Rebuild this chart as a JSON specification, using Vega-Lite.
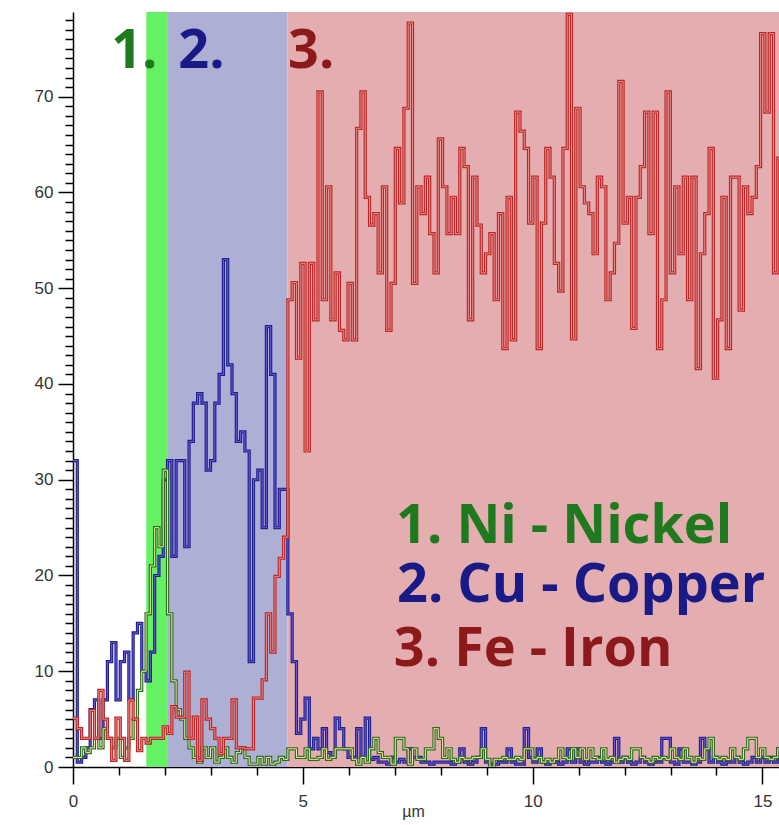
{
  "$schema": "https://vega.github.io/schema/vega-lite/v6.json",
  "width": 706,
  "height": 755,
  "autosize": "none",
  "padding": {"left": 73, "top": 12, "right": 0, "bottom": 58},
  "background": "#ffffff",
  "config": {"view": {"stroke": null}, "axis": {"grid": false}},
  "datasets": {
    "bands": [
      {"band": "Ni", "x0": 1.594, "x1": 2.065},
      {"band": "Cu", "x0": 2.065, "x1": 4.665},
      {"band": "Fe", "x0": 4.665, "x1": 15.36}
    ],
    "labels": [
      {"t": "1.", "x": 0.83, "y": 73.0, "s": "Ni"},
      {"t": "2.", "x": 2.29, "y": 73.0, "s": "Cu"},
      {"t": "3.", "x": 4.68, "y": 73.0, "s": "Fe"},
      {"t": "1. Ni - Nickel", "x": 7.03, "y": 23.35, "s": "Ni"},
      {"t": "2. Cu - Copper", "x": 7.05, "y": 17.2, "s": "Cu"},
      {"t": "3. Fe - Iron", "x": 6.98, "y": 10.6, "s": "Fe"}
    ],
    "scan": [
      {"x": 0, "ni": 1, "cu": 32, "fe": 5.1},
      {"x": 0.0935, "ni": 1, "cu": 0.5, "fe": 4},
      {"x": 0.187, "ni": 2, "cu": 1, "fe": 3},
      {"x": 0.2805, "ni": 1.5, "cu": 2, "fe": 3},
      {"x": 0.374, "ni": 2, "cu": 6, "fe": 5.9},
      {"x": 0.4675, "ni": 3, "cu": 7, "fe": 3},
      {"x": 0.561, "ni": 2, "cu": 3, "fe": 8},
      {"x": 0.6545, "ni": 4, "cu": 7, "fe": 5},
      {"x": 0.748, "ni": 3, "cu": 11, "fe": 3},
      {"x": 0.8415, "ni": 2, "cu": 13, "fe": 0.7},
      {"x": 0.935, "ni": 3, "cu": 7, "fe": 5.1},
      {"x": 1.0285, "ni": 1, "cu": 11, "fe": 3},
      {"x": 1.122, "ni": 2, "cu": 12, "fe": 0.7},
      {"x": 1.2155, "ni": 3, "cu": 7, "fe": 7},
      {"x": 1.309, "ni": 5, "cu": 14, "fe": 5},
      {"x": 1.4025, "ni": 8, "cu": 15, "fe": 1.7},
      {"x": 1.496, "ni": 10, "cu": 10, "fe": 3},
      {"x": 1.5895, "ni": 16, "cu": 9, "fe": 2.5},
      {"x": 1.683, "ni": 21, "cu": 12, "fe": 3},
      {"x": 1.7765, "ni": 25, "cu": 20, "fe": 3},
      {"x": 1.87, "ni": 23, "cu": 22, "fe": 3},
      {"x": 1.9635, "ni": 31, "cu": 30, "fe": 4.2},
      {"x": 2.057, "ni": 16, "cu": 32, "fe": 3.5},
      {"x": 2.1505, "ni": 9, "cu": 22, "fe": 6.3},
      {"x": 2.244, "ni": 6, "cu": 32, "fe": 5.2},
      {"x": 2.3375, "ni": 5, "cu": 32, "fe": 5.2},
      {"x": 2.431, "ni": 3, "cu": 23, "fe": 9.9},
      {"x": 2.5245, "ni": 2, "cu": 34, "fe": 3},
      {"x": 2.618, "ni": 1, "cu": 38, "fe": 5.2},
      {"x": 2.7115, "ni": 0.5, "cu": 39, "fe": 0.7},
      {"x": 2.805, "ni": 2, "cu": 38, "fe": 7},
      {"x": 2.8985, "ni": 1, "cu": 31, "fe": 5},
      {"x": 2.992, "ni": 2, "cu": 32, "fe": 4},
      {"x": 3.0855, "ni": 0.5, "cu": 38, "fe": 3},
      {"x": 3.179, "ni": 1, "cu": 41, "fe": 1.4},
      {"x": 3.2725, "ni": 2, "cu": 53, "fe": 3},
      {"x": 3.366, "ni": 1, "cu": 42, "fe": 3},
      {"x": 3.4595, "ni": 0.5, "cu": 39, "fe": 7},
      {"x": 3.553, "ni": 1.5, "cu": 34, "fe": 2},
      {"x": 3.6465, "ni": 2, "cu": 35, "fe": 2},
      {"x": 3.74, "ni": 1, "cu": 33, "fe": 1.9},
      {"x": 3.8335, "ni": 0.3, "cu": 11, "fe": 1.9},
      {"x": 3.927, "ni": 0.3, "cu": 30, "fe": 7.2},
      {"x": 4.0205, "ni": 1, "cu": 31, "fe": 7.2},
      {"x": 4.114, "ni": 0.3, "cu": 25, "fe": 9.1},
      {"x": 4.2075, "ni": 1, "cu": 46, "fe": 16},
      {"x": 4.301, "ni": 0.3, "cu": 41, "fe": 12},
      {"x": 4.3945, "ni": 0.5, "cu": 25, "fe": 19.9},
      {"x": 4.488, "ni": 1, "cu": 29, "fe": 21.8},
      {"x": 4.5815, "ni": 0.8, "cu": 29, "fe": 24},
      {"x": 4.675, "ni": 1.9, "cu": 16, "fe": 48.8},
      {"x": 4.7685, "ni": 1.9, "cu": 11, "fe": 50.6},
      {"x": 4.862, "ni": 1, "cu": 3.5, "fe": 42.7},
      {"x": 4.9555, "ni": 1, "cu": 5, "fe": 52.6},
      {"x": 5.049, "ni": 1.9, "cu": 7.2, "fe": 33},
      {"x": 5.1425, "ni": 0.8, "cu": 1.9, "fe": 52.6},
      {"x": 5.236, "ni": 0.8, "cu": 3, "fe": 46.7},
      {"x": 5.3295, "ni": 1, "cu": 1.9, "fe": 70.5},
      {"x": 5.423, "ni": 1.9, "cu": 4, "fe": 48.8},
      {"x": 5.5165, "ni": 0.8, "cu": 1.5, "fe": 60.6},
      {"x": 5.61, "ni": 1, "cu": 1, "fe": 46.7},
      {"x": 5.7035, "ni": 1.9, "cu": 5.1, "fe": 51.6},
      {"x": 5.797, "ni": 1.9, "cu": 4, "fe": 45.6},
      {"x": 5.8905, "ni": 1.9, "cu": 1.9, "fe": 44.6},
      {"x": 5.984, "ni": 1.9, "cu": 1, "fe": 50.5},
      {"x": 6.0775, "ni": 0.8, "cu": 1, "fe": 44.6},
      {"x": 6.171, "ni": 0.3, "cu": 4, "fe": 66.7},
      {"x": 6.2645, "ni": 1, "cu": 1, "fe": 70.5},
      {"x": 6.358, "ni": 0.5, "cu": 5.1, "fe": 59.5},
      {"x": 6.4515, "ni": 1.9, "cu": 0.8, "fe": 56.6},
      {"x": 6.545, "ni": 3, "cu": 1, "fe": 57.8},
      {"x": 6.6385, "ni": 1.5, "cu": 0.5, "fe": 51.6},
      {"x": 6.732, "ni": 1, "cu": 0.5, "fe": 60.6},
      {"x": 6.8255, "ni": 1, "cu": 0.3, "fe": 45.6},
      {"x": 6.919, "ni": 0.3, "cu": 1, "fe": 50.5},
      {"x": 7.0125, "ni": 3, "cu": 0.5, "fe": 64.6},
      {"x": 7.106, "ni": 3, "cu": 0.8, "fe": 58.9},
      {"x": 7.1995, "ni": 1.9, "cu": 0.5, "fe": 68.8},
      {"x": 7.293, "ni": 0.3, "cu": 1.9, "fe": 77.7},
      {"x": 7.3865, "ni": 1.9, "cu": 1, "fe": 50.5},
      {"x": 7.48, "ni": 0.8, "cu": 1, "fe": 60.6},
      {"x": 7.5735, "ni": 0.8, "cu": 0.5, "fe": 57.8},
      {"x": 7.667, "ni": 1.9, "cu": 0.5, "fe": 61.6},
      {"x": 7.7605, "ni": 1.9, "cu": 0.3, "fe": 55.7},
      {"x": 7.854, "ni": 4, "cu": 0.5, "fe": 51.6},
      {"x": 7.9475, "ni": 3, "cu": 0.5, "fe": 65.6},
      {"x": 8.041, "ni": 1, "cu": 0.5, "fe": 60.6},
      {"x": 8.1345, "ni": 1.9, "cu": 0.5, "fe": 55.7},
      {"x": 8.228, "ni": 0.8, "cu": 0.3, "fe": 59.5},
      {"x": 8.3215, "ni": 0.5, "cu": 0.5, "fe": 55.7},
      {"x": 8.415, "ni": 1, "cu": 1.9, "fe": 64.6},
      {"x": 8.5085, "ni": 0.8, "cu": 0.5, "fe": 62.7},
      {"x": 8.602, "ni": 0.8, "cu": 0.3, "fe": 46.7},
      {"x": 8.6955, "ni": 1, "cu": 0.5, "fe": 61.6},
      {"x": 8.789, "ni": 1, "cu": 1, "fe": 56.6},
      {"x": 8.8825, "ni": 1.9, "cu": 4, "fe": 51.6},
      {"x": 8.976, "ni": 0.8, "cu": 0.5, "fe": 53.6},
      {"x": 9.0695, "ni": 0, "cu": 0.3, "fe": 55.7},
      {"x": 9.163, "ni": 0.8, "cu": 0.3, "fe": 48.8},
      {"x": 9.2565, "ni": 0.8, "cu": 0.5, "fe": 57.8},
      {"x": 9.35, "ni": 1, "cu": 0.5, "fe": 43.7},
      {"x": 9.4435, "ni": 0.8, "cu": 1.9, "fe": 59.5},
      {"x": 9.537, "ni": 0.8, "cu": 0.5, "fe": 44.6},
      {"x": 9.6305, "ni": 1, "cu": 0.3, "fe": 68.4},
      {"x": 9.724, "ni": 0.8, "cu": 0.3, "fe": 66.4},
      {"x": 9.8175, "ni": 1.9, "cu": 4, "fe": 64.6},
      {"x": 9.911, "ni": 1.9, "cu": 1, "fe": 56.8},
      {"x": 10.0045, "ni": 0.8, "cu": 0.5, "fe": 61.6},
      {"x": 10.098, "ni": 1, "cu": 1.9, "fe": 43.7},
      {"x": 10.1915, "ni": 0.5, "cu": 0.5, "fe": 56.8},
      {"x": 10.285, "ni": 0.8, "cu": 0.3, "fe": 64.6},
      {"x": 10.3785, "ni": 0.5, "cu": 0.5, "fe": 61.6},
      {"x": 10.472, "ni": 0.8, "cu": 0.5, "fe": 52.6},
      {"x": 10.5655, "ni": 1.9, "cu": 0.3, "fe": 49.7},
      {"x": 10.659, "ni": 1, "cu": 0.5, "fe": 64.6},
      {"x": 10.7525, "ni": 0.8, "cu": 1.9, "fe": 78.6},
      {"x": 10.846, "ni": 1.9, "cu": 0.5, "fe": 44.7},
      {"x": 10.9395, "ni": 1, "cu": 1.9, "fe": 68.8},
      {"x": 11.033, "ni": 1.9, "cu": 0.5, "fe": 60.6},
      {"x": 11.1265, "ni": 0.8, "cu": 0.3, "fe": 58.9},
      {"x": 11.22, "ni": 1.9, "cu": 0.5, "fe": 57.8},
      {"x": 11.3135, "ni": 1, "cu": 0.5, "fe": 53.6},
      {"x": 11.407, "ni": 0.8, "cu": 1, "fe": 61.6},
      {"x": 11.5005, "ni": 1.9, "cu": 0.5, "fe": 60.6},
      {"x": 11.594, "ni": 0.8, "cu": 0.3, "fe": 48.8},
      {"x": 11.6875, "ni": 1, "cu": 0.5, "fe": 51.6},
      {"x": 11.781, "ni": 0.5, "cu": 3, "fe": 54.7},
      {"x": 11.8745, "ni": 0.8, "cu": 0.5, "fe": 71.6},
      {"x": 11.968, "ni": 1, "cu": 1, "fe": 56.8},
      {"x": 12.0615, "ni": 0.8, "cu": 0.5, "fe": 59.5},
      {"x": 12.155, "ni": 1.9, "cu": 0.3, "fe": 45.8},
      {"x": 12.2485, "ni": 1.9, "cu": 0.5, "fe": 59.5},
      {"x": 12.342, "ni": 1, "cu": 1, "fe": 62.7},
      {"x": 12.4355, "ni": 0.8, "cu": 0.5, "fe": 68.4},
      {"x": 12.529, "ni": 0.5, "cu": 0.3, "fe": 55.7},
      {"x": 12.6225, "ni": 1, "cu": 0.5, "fe": 68.4},
      {"x": 12.716, "ni": 0.8, "cu": 0.5, "fe": 43.7},
      {"x": 12.8095, "ni": 1, "cu": 3, "fe": 48.8},
      {"x": 12.903, "ni": 0.8, "cu": 3, "fe": 70.5},
      {"x": 12.9965, "ni": 1.9, "cu": 0.5, "fe": 51.6},
      {"x": 13.09, "ni": 1, "cu": 0.3, "fe": 60.6},
      {"x": 13.1835, "ni": 0.8, "cu": 1.9, "fe": 53.6},
      {"x": 13.277, "ni": 1.9, "cu": 0.5, "fe": 61.6},
      {"x": 13.3705, "ni": 1, "cu": 0.5, "fe": 48.8},
      {"x": 13.464, "ni": 0.5, "cu": 0.3, "fe": 61.6},
      {"x": 13.5575, "ni": 1, "cu": 0.5, "fe": 41.6},
      {"x": 13.651, "ni": 0.8, "cu": 3, "fe": 53.6},
      {"x": 13.7445, "ni": 1.9, "cu": 1.9, "fe": 57.8},
      {"x": 13.838, "ni": 3, "cu": 0.5, "fe": 64.6},
      {"x": 13.9315, "ni": 1, "cu": 1, "fe": 40.6},
      {"x": 14.025, "ni": 0.8, "cu": 0.5, "fe": 46.7},
      {"x": 14.1185, "ni": 1, "cu": 0.3, "fe": 59.5},
      {"x": 14.212, "ni": 0.8, "cu": 0.5, "fe": 43.7},
      {"x": 14.3055, "ni": 1.9, "cu": 0.5, "fe": 61.6},
      {"x": 14.399, "ni": 1, "cu": 1, "fe": 61.6},
      {"x": 14.4925, "ni": 0.8, "cu": 0.5, "fe": 47.7},
      {"x": 14.586, "ni": 1.9, "cu": 0.3, "fe": 60.6},
      {"x": 14.6795, "ni": 3, "cu": 0.5, "fe": 57.8},
      {"x": 14.773, "ni": 3, "cu": 1, "fe": 59.5},
      {"x": 14.8665, "ni": 1, "cu": 0.5, "fe": 62.7},
      {"x": 14.96, "ni": 1.9, "cu": 1, "fe": 76.6},
      {"x": 15.0535, "ni": 1, "cu": 0.5, "fe": 68.4},
      {"x": 15.147, "ni": 0.8, "cu": 1, "fe": 76.6},
      {"x": 15.2405, "ni": 1, "cu": 0.5, "fe": 51.6},
      {"x": 15.334, "ni": 1.9, "cu": 1.9, "fe": 63.6},
      {"x": 15.4275, "ni": 1.9, "cu": 1.9, "fe": 63.6}
    ]
  },
  "layer": [
    {
      "data": {"name": "bands"},
      "mark": {"type": "rect"},
      "encoding": {
        "x": {
          "field": "x0", "type": "quantitative",
          "scale": {"domain": [0, 15.36], "nice": false, "zero": false},
          "axis": {
            "values": [0, 1, 2, 3, 4, 5, 6, 7, 8, 9, 10, 11, 12, 13, 14, 15],
            "tickCount": 100,
            "format": "d",
            "labelExpr": "datum.value % 5 === 0 ? datum.label : ''",
            "tickSize": {"condition": {"test": "datum.value % 5 === 0", "value": 17}, "value": 8},
            "tickColor": "#000000", "tickWidth": 1.5,
            "domainColor": "#000000", "domainWidth": 1.5,
            "labelFont": "Liberation Sans", "labelFontSize": 17, "labelColor": "#333333",
            "labelPadding": 9, "labelFlush": false, "labelOverlap": false,
            "title": "µm", "titleFont": "Liberation Sans", "titleFontSize": 16,
            "titleFontWeight": "normal", "titleColor": "#333333",
            "titleX": 340, "titleY": 49, "titleBaseline": "alphabetic"
          }
        },
        "x2": {"field": "x1"},
        "fill": {
          "field": "band", "type": "nominal",
          "scale": {"domain": ["Ni", "Cu", "Fe"], "range": ["#64f264", "#adafd5", "#e4aeb0"]},
          "legend": null
        }
      }
    },
    {
      "data": {"name": "scan"},
      "mark": {"type": "line", "interpolate": "step-after", "stroke": "#1e1e8c", "strokeWidth": 3.2, "clip": true},
      "encoding": {
        "x": {"field": "x", "type": "quantitative"},
        "y": {
          "field": "cu", "type": "quantitative",
          "scale": {"domain": [0, 78.85], "nice": false, "zero": false},
          "axis": {
            "values": [0,1,2,3,4,5,6,7,8,9,10,11,12,13,14,15,16,17,18,19,20,21,22,23,24,25,26,27,28,29,30,31,32,33,34,35,36,37,38,39,40,41,42,43,44,45,46,47,48,49,50,51,52,53,54,55,56,57,58,59,60,61,62,63,64,65,66,67,68,69,70,71,72,73,74,75,76,77,78],
            "tickCount": 200,
            "format": "d",
            "labelExpr": "datum.value % 10 === 0 ? datum.label : ''",
            "tickSize": {"condition": {"test": "datum.value % 10 === 0", "value": 15}, "value": 8},
            "tickColor": "#000000", "tickWidth": 1.5,
            "domainColor": "#000000", "domainWidth": 1.5,
            "labelFont": "Liberation Sans", "labelFontSize": 17, "labelColor": "#333333",
            "labelPadding": 5, "labelFlush": false, "labelOverlap": false,
            "title": null
          }
        }
      }
    },
    {
      "data": {"name": "scan"},
      "mark": {"type": "line", "interpolate": "step-after", "stroke": "#6f5cd8", "strokeWidth": 1, "clip": true},
      "encoding": {"x": {"field": "x", "type": "quantitative"}, "y": {"field": "cu", "type": "quantitative"}}
    },
    {
      "data": {"name": "scan"},
      "mark": {"type": "line", "interpolate": "step-after", "stroke": "#2e6a1e", "strokeWidth": 3.2, "clip": true},
      "encoding": {"x": {"field": "x", "type": "quantitative"}, "y": {"field": "ni", "type": "quantitative"}}
    },
    {
      "data": {"name": "scan"},
      "mark": {"type": "line", "interpolate": "step-after", "stroke": "#e8f0a8", "strokeWidth": 1, "clip": true},
      "encoding": {"x": {"field": "x", "type": "quantitative"}, "y": {"field": "ni", "type": "quantitative"}}
    },
    {
      "data": {"name": "scan"},
      "mark": {"type": "line", "interpolate": "step-after", "stroke": "#b82626", "strokeWidth": 3.2, "clip": true},
      "encoding": {"x": {"field": "x", "type": "quantitative"}, "y": {"field": "fe", "type": "quantitative"}}
    },
    {
      "data": {"name": "scan"},
      "mark": {"type": "line", "interpolate": "step-after", "stroke": "#f08c8c", "strokeWidth": 1, "clip": true},
      "encoding": {"x": {"field": "x", "type": "quantitative"}, "y": {"field": "fe", "type": "quantitative"}}
    },
    {
      "data": {"name": "labels"},
      "mark": {"type": "text", "font": "Open Sans", "fontWeight": "bold", "fontSize": 54, "align": "left", "baseline": "alphabetic"},
      "encoding": {
        "x": {"field": "x", "type": "quantitative"},
        "y": {"field": "y", "type": "quantitative"},
        "text": {"field": "t"},
        "color": {
          "field": "s", "type": "nominal",
          "scale": {"domain": ["Ni", "Cu", "Fe"], "range": ["#1f7a1f", "#1a1a86", "#8c1a1a"]},
          "legend": null
        }
      }
    }
  ]
}
